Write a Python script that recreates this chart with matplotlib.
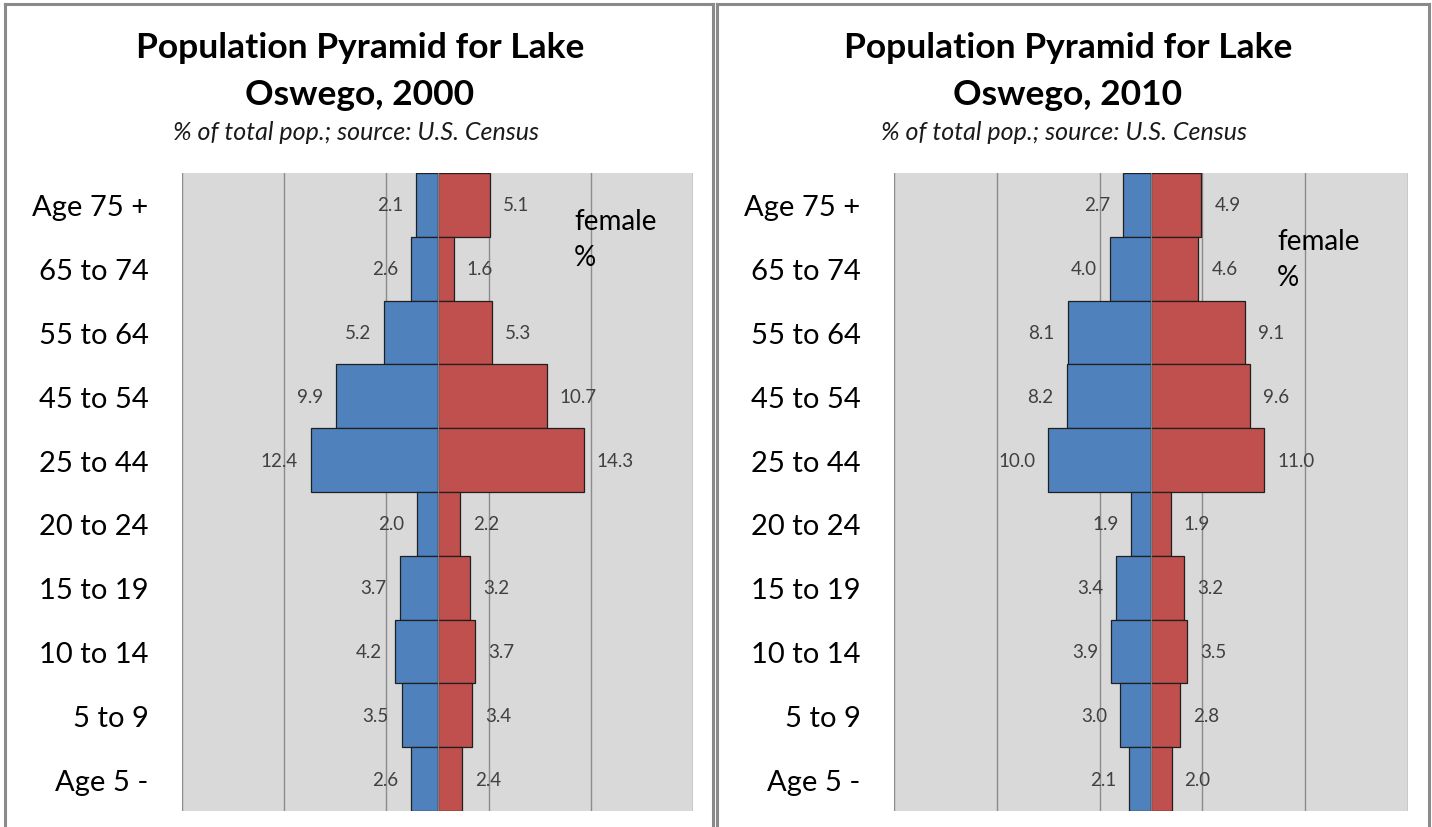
import matplotlib
matplotlib.use("Agg")
import matplotlib.pyplot as plt
from matplotlib.lines import Line2D

# Age groups, oldest first (top of the pyramid)
age_groups = ["Age 75 +", "65 to 74", "55 to 64", "45 to 54", "25 to 44",
              "20 to 24", "15 to 19", "10 to 14", "5 to 9", "Age 5 -"]

# Percent of total population by sex
male_2000 = [2.1, 2.6, 5.2, 9.9, 12.4, 2.0, 3.7, 4.2, 3.5, 2.6]
female_2000 = [5.1, 1.6, 5.3, 10.7, 14.3, 2.2, 3.2, 3.7, 3.4, 2.4]
male_2010 = [2.7, 4.0, 8.1, 8.2, 10.0, 1.9, 3.4, 3.9, 3.0, 2.1]
female_2010 = [4.9, 4.6, 9.1, 9.6, 11.0, 1.9, 3.2, 3.5, 2.8, 2.0]

years = ["2000", "2010"]
grid_ticks = [-25, -15, -5, 5, 15, 25]

FONT = ["Lato", "DejaVu Sans"]
plt.rcParams["font.family"] = FONT

BLUE = "#4F81BD"
RED = "#C0504D"
PLOT_BG = "#D9D9D9"
GRID = "#8C8C8C"
FRAME = "#8A8A8A"

W, H = 1432, 828
fig = plt.figure(figsize=(W / 100, H / 100), dpi=100)
fig.patch.set_facecolor("white")


def fx(px):
    return px / W


def fy(py):
    return 1 - py / H


def panel(x_left, x_right, male, female, year, title_cx, note_x, note_y):
    top, bottom = 174, 812
    ax = fig.add_axes([fx(x_left), fy(bottom), fx(x_right - x_left), (bottom - top) / H])
    ax.set_facecolor(PLOT_BG)
    y = list(range(len(age_groups)))
    ax.barh(y, [-m for m in male], height=1.0, color=BLUE,
            edgecolor="#1F1F1F", linewidth=0.9, zorder=3)
    ax.barh(y, female, height=1.0, color=RED,
            edgecolor="#1F1F1F", linewidth=0.9, zorder=3)
    ax.axvline(0, color="#7F7F7F", linewidth=0.8, zorder=4)
    ax.set_xlim(-25, 25)
    ax.set_ylim(len(age_groups) - 0.5, -0.5)
    ax.set_xticks(grid_ticks)
    ax.set_xticklabels([])
    ax.xaxis.grid(True, color=GRID, linewidth=1.0, zorder=0)
    ax.set_axisbelow(True)
    ax.tick_params(axis="x", length=0)
    ax.set_yticks(y)
    ax.set_yticklabels(age_groups, fontsize=21, color="black")
    ax.tick_params(axis="y", length=0, pad=24)
    for s in ax.spines.values():
        s.set_visible(False)

    for i, (m, f) in enumerate(zip(male, female)):
        ax.annotate(f"{m:.1f}", xy=(-m, i), xytext=(-13, 0), textcoords="offset pixels",
                    ha="right", va="center", fontsize=13.5, color="#404040", zorder=5)
        ax.annotate(f"{f:.1f}", xy=(f, i), xytext=(13, 0), textcoords="offset pixels",
                    ha="left", va="center", fontsize=13.5, color="#404040", zorder=5)

    fig.text(fx(title_cx), fy(48), "Population Pyramid for Lake",
             ha="center", va="center", fontsize=25.5, fontweight="bold", color="black")
    fig.text(fx(title_cx), fy(95), f"Oswego, {year}",
             ha="center", va="center", fontsize=25.5, fontweight="bold", color="black")
    fig.text(fx(title_cx - 4), fy(133), "% of total pop.; source: U.S. Census",
             ha="center", va="center", fontsize=18, style="italic", color="#1A1A1A")
    fig.text(fx(note_x), fy(note_y), "female", ha="left", va="center",
             fontsize=20, color="black", zorder=6)
    fig.text(fx(note_x), fy(note_y + 36), "%", ha="left", va="center",
             fontsize=20, color="black", zorder=6)
    return ax


panel(182, 693, male_2000, female_2000, years[0], 360, 574, 222)
panel(894, 1408, male_2010, female_2010, years[1], 1068, 1277, 242)

# Panel frames
for x0, x1 in [(4.5, 713), (716.5, 1429)]:
    for xs, ys in [([x0, x0], [5, H + 5]), ([x1, x1], [5, H + 5]), ([x0, x1], [5, 5])]:
        fig.add_artist(Line2D([fx(v) for v in xs], [fy(v) for v in ys],
                              color=FRAME, linewidth=2.2, transform=fig.transFigure))

fig.savefig("out.png", dpi=100, facecolor="white")
